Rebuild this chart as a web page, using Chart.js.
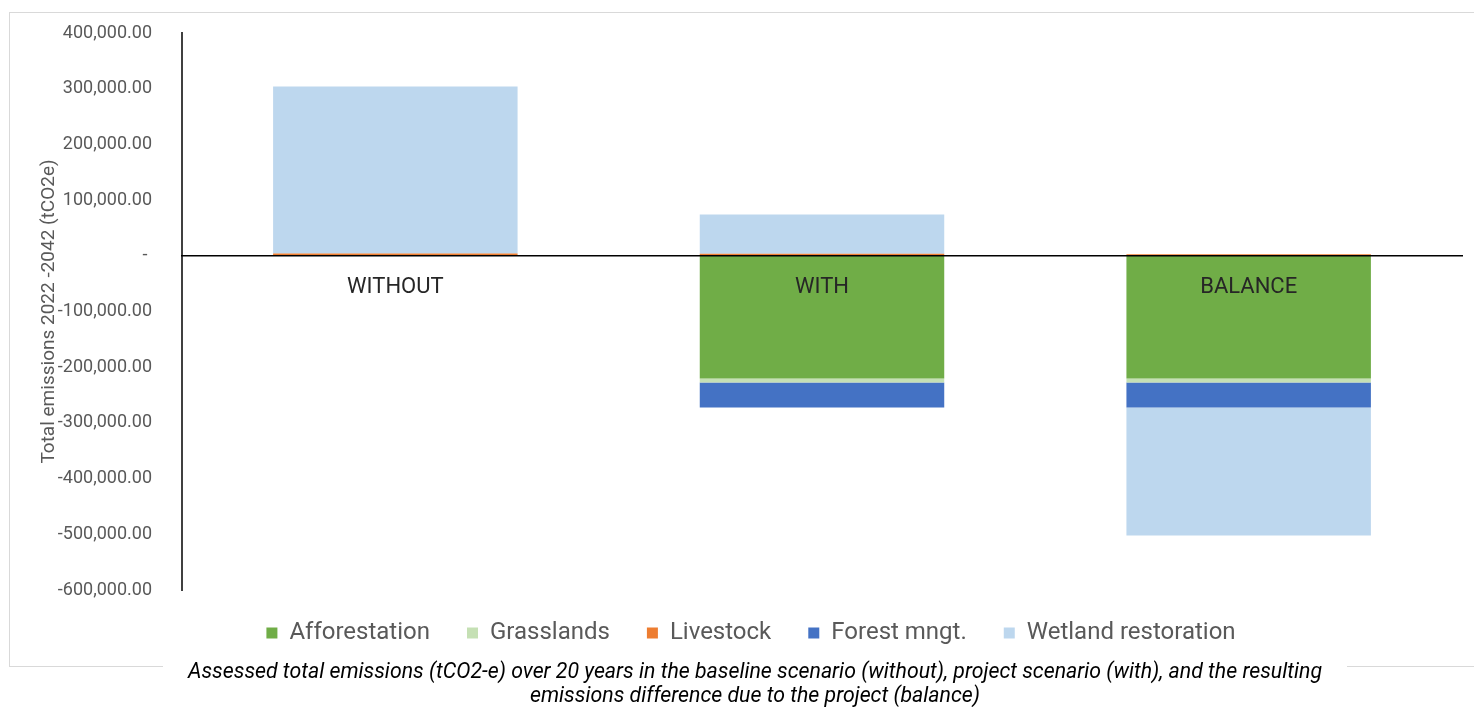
<!DOCTYPE html>
<html>
<head>
<meta charset="utf-8">
<script src="https://cdn.jsdelivr.net/npm/chart.js@4/dist/chart.umd.min.js"></script>
<style>
  html, body { margin: 0; padding: 0; background: #fff; }
  #frame { position: absolute; left: 9px; top: 12px; width: 1470px; height: 653px; border: 1px solid #d9d9d9; }
  #wrap { position: absolute; left: 0; top: 0; width: 1474px; height: 707px; }
  #caption {
    position: absolute; left: 163px; top: 659px; width: 1184px; background: #fff;
    font-family: Roboto, sans-serif; font-style: italic; font-size: 21.3px; line-height: 24px;
    color: #000; text-align: center;
  }
</style>
</head>
<body>
<div id="frame"></div>
<div id="wrap"><canvas id="emChart" width="1474" height="707"></canvas></div>
<div id="caption">Assessed total emissions (tCO2-e) over 20 years in the baseline scenario (without), project scenario (with), and the resulting<br>emissions difference due to the project (balance)</div>
<script>
// categories and series (tCO2e, 2022-2042)
var categories = ['WITHOUT', 'WITH', 'BALANCE'];
var afforestation = [0, -220300, -220300];
var grasslands = [0, -7000, -7000];
var livestock = [4000, 3500, 3000];
var forestMngt = [0, -45000, -45000];
var wetland = [300000, 70500, -230000];
var yTicks = [400000, 300000, 200000, 100000, 0, -100000, -200000, -300000, -400000, -500000, -600000];

// nudge the legend row up a little so it sits where the original one does
var legendNudge = {
    id: 'legendNudge',
    afterLayout: function (chart) {
        if (chart.legend) { chart.legend.top -= 6; chart.legend.bottom -= 6; }
    }
};

var ctx = document.getElementById('emChart').getContext('2d');
var chart = new Chart(ctx, {
    type: 'bar',
    data: {
        labels: categories,
        datasets: [
            { label: 'Afforestation', data: afforestation, backgroundColor: '#70AD47' },
            { label: 'Grasslands', data: grasslands, backgroundColor: '#C5E0B4' },
            { label: 'Livestock', data: livestock, backgroundColor: '#ED7D31' },
            { label: 'Forest mngt.', data: forestMngt, backgroundColor: '#4472C4' },
            { label: 'Wetland restoration', data: wetland, backgroundColor: '#BDD7EE' }
        ]
    },
    plugins: [legendNudge],
    options: {
        responsive: false,
        animation: false,
        layout: { padding: { left: 40, right: 12, top: 33, bottom: 46 } },
        datasets: { bar: { barPercentage: 1, categoryPercentage: 0.573, borderWidth: 0 } },
        plugins: {
            tooltip: { enabled: false },
            legend: {
                position: 'bottom',
                labels: {
                    boxWidth: 11, boxHeight: 11, padding: 37, color: '#595959',
                    font: { family: 'Roboto', size: 24 }
                }
            }
        },
        scales: {
            x: {
                stacked: true,
                position: { y: 0 },
                grid: { display: false },
                border: { display: true, color: '#000', width: 1.5, z: 1 },
                ticks: { color: '#262626', padding: 10, z: 1, autoSkip: false, maxRotation: 0, font: { family: 'Roboto', size: 22 } },
                afterFit: function (s) { s.height = 0; s.paddingLeft = 0; s.paddingRight = 0; }
            },
            y: {
                stacked: true,
                min: -600000, max: 400000,
                grid: { display: false },
                border: { display: true, color: '#404040', width: 2 },
                afterBuildTicks: function (s) { s.ticks = yTicks.map(function (v) { return { value: v }; }); },
                afterFit: function (s) { s.width = 142; },
                ticks: {
                    color: '#595959', padding: 22,
                    font: { family: 'Roboto', size: 18 },
                    callback: function (v) {
                        return v === 0 ? '- ' : v.toLocaleString('en-US', { minimumFractionDigits: 2, maximumFractionDigits: 2 });
                    }
                },
                title: {
                    display: true, text: 'Total emissions 2022 -2042 (tCO2e)', color: '#595959',
                    font: { family: 'Roboto', size: 19, lineHeight: 1 }, padding: { top: 0, bottom: 0 }
                }
            }
        }
    }
});
</script>
</body>
</html>
